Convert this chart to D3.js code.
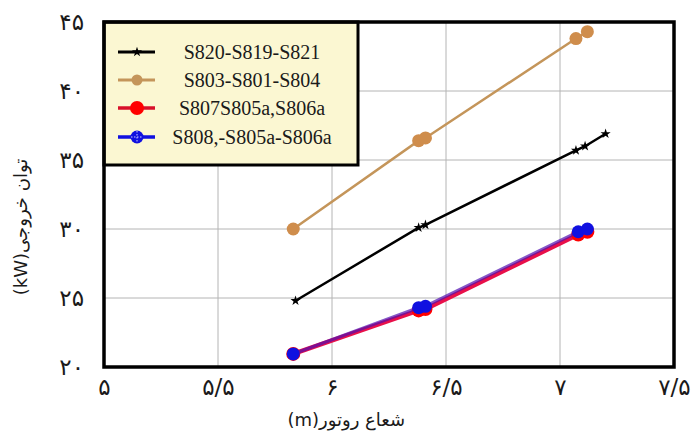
<!DOCTYPE html>
<html>
<head>
<meta charset="utf-8">
<script src="https://cdn.jsdelivr.net/npm/d3@7"></script>
<style>
  html, body { margin: 0; padding: 0; background: #fff; }
  svg { display: block; }
</style>
</head>
<body>
<svg id="chart" width="692" height="439"></svg>
<script>
// Rotor radius (m) and output power (kW) for each configuration
const xBlack = [5.84, 6.38, 6.41, 7.07, 7.11, 7.2];
const yBlack = [24.8, 30.1, 30.3, 35.7, 36.0, 36.9];

const xTan = [5.83, 6.38, 6.41, 7.07, 7.12];
const yTan = [30.0, 36.4, 36.6, 43.8, 44.3];

const xRed = [5.83, 6.38, 6.41, 7.08, 7.12];
const yRed = [20.95, 24.1, 24.2, 29.6, 29.8];

const xBlue = [5.83, 6.38, 6.41, 7.08, 7.12];
const yBlue = [20.95, 24.3, 24.4, 29.8, 30.0];

const seriesNames = ["S820-S819-S821", "S803-S801-S804", "S807S805a,S806a", "S808,-S805a-S806a"];

const xTicks = [5, 5.5, 6, 6.5, 7, 7.5];
const xTickLabels = ["۵", "۵/۵", "۶", "۶/۵", "۷", "۷/۵"];
const yTicks = [20, 25, 30, 35, 40, 45];
const yTickLabels = ["۲۰", "۲۵", "۳۰", "۳۵", "۴۰", "۴۵"];

const xTitle = "شعاع روتور(m)";
const yTitle = "توان خروجی(kW)";

const W = 692, H = 439;
const margin = { left: 104, top: 22, right: 18, bottom: 72 };
const iw = W - margin.left - margin.right;
const ih = H - margin.top - margin.bottom;

const svg = d3.select("#chart");
const x = d3.scaleLinear().domain([5, 7.5]).range([0, iw]);
const y = d3.scaleLinear().domain([20, 45]).range([ih, 0]);

const g = svg.append("g").attr("transform", `translate(${margin.left},${margin.top})`);

svg.append("defs").append("clipPath").attr("id", "plotClip")
  .append("rect").attr("x", 0).attr("y", 0).attr("width", iw).attr("height", ih);

// grid
g.append("g").selectAll("line").data(xTicks.slice(1, -1)).join("line")
  .attr("x1", d => x(d)).attr("x2", d => x(d)).attr("y1", 0).attr("y2", ih)
  .attr("stroke", "#b4b4b4").attr("stroke-width", 1);
g.append("g").selectAll("line").data(yTicks.slice(1, -1)).join("line")
  .attr("y1", d => y(d)).attr("y2", d => y(d)).attr("x1", 0).attr("x2", iw)
  .attr("stroke", "#b4b4b4").attr("stroke-width", 1);

// axes (labels only)
const persianFont = "DejaVu Sans";
const xAxis = g.append("g").attr("transform", `translate(0,${ih})`)
  .call(d3.axisBottom(x).tickValues(xTicks).tickSize(0).tickPadding(12)
    .tickFormat((d, i) => xTickLabels[i]));
xAxis.select(".domain").remove();
xAxis.selectAll("text").attr("font-family", persianFont).attr("font-size", 23).attr("fill", "#1a1a1a");

const yAxis = g.append("g")
  .call(d3.axisLeft(y).tickValues(yTicks).tickSize(0).tickPadding(20)
    .tickFormat((d, i) => yTickLabels[i]));
yAxis.select(".domain").remove();
yAxis.selectAll("text").attr("font-family", persianFont).attr("font-size", 23).attr("fill", "#1a1a1a");

// axis titles
svg.append("text")
  .attr("x", margin.left + iw * 0.425).attr("y", 426)
  .attr("text-anchor", "middle").attr("direction", "rtl")
  .attr("font-family", persianFont).attr("font-size", 18).attr("fill", "#1a1a1a")
  .text(xTitle);
svg.append("text")
  .attr("transform", `translate(27,${margin.top + 205}) rotate(-90)`)
  .attr("text-anchor", "middle").attr("direction", "rtl")
  .attr("font-family", persianFont).attr("font-size", 18).attr("fill", "#1a1a1a")
  .text(yTitle);

// series
const line = d3.line().x(d => x(d[0])).y(d => y(d[1]));
const zip = (a, b) => a.map((v, i) => [v, b[i]]);
const plot = g.append("g").attr("clip-path", "url(#plotClip)");

const tanPts = zip(xTan, yTan);
const blackPts = zip(xBlack, yBlack);
const redPts = zip(xRed, yRed);
const bluePts = zip(xBlue, yBlue);

// tan
plot.append("path").datum(tanPts).attr("d", line)
  .attr("fill", "none").attr("stroke", "#c4955a").attr("stroke-width", 2.5);
plot.selectAll("circle.tan").data(tanPts).join("circle").attr("class", "tan")
  .attr("cx", d => x(d[0])).attr("cy", d => y(d[1])).attr("r", 6.5)
  .attr("fill", "#cf8d4c");

// black
plot.append("path").datum(blackPts).attr("d", line)
  .attr("fill", "none").attr("stroke", "#000").attr("stroke-width", 2.5);
const star = d3.symbol().type(d3.symbolStar).size(32);
plot.selectAll("path.blk").data(blackPts).join("path").attr("class", "blk")
  .attr("transform", d => `translate(${x(d[0])},${y(d[1])})`)
  .attr("d", star).attr("fill", "#000");

// red + blue overlap, blending to purple
plot.append("path").datum(redPts).attr("d", line)
  .attr("fill", "none").attr("stroke", "#e8104a").attr("stroke-width", 4.5);
plot.selectAll("circle.red").data(redPts).join("circle").attr("class", "red")
  .attr("cx", d => x(d[0])).attr("cy", d => y(d[1])).attr("r", 7)
  .attr("fill", "#ff0000");
plot.append("path").datum(bluePts).attr("d", line)
  .attr("fill", "none").attr("stroke", "#5010b0").attr("stroke-width", 3.2).attr("opacity", 0.7);
plot.selectAll("circle.blue").data(bluePts).join("circle").attr("class", "blue")
  .attr("cx", d => x(d[0])).attr("cy", d => y(d[1])).attr("r", 6.5)
  .attr("fill", "#1010e0");

// legend
const lg = g.append("g");
lg.append("rect").attr("x", 0).attr("y", 0).attr("width", 254).attr("height", 143)
  .attr("fill", "#fbf7d2").attr("stroke", "#000").attr("stroke-width", 3);
const rows = [30, 58, 86, 115];
const legColors = ["#000", "#c4955a", "#d8102a", "#1010e0"];
seriesNames.forEach((name, i) => {
  const ry = rows[i];
  lg.append("line").attr("x1", 14).attr("x2", 51).attr("y1", ry).attr("y2", ry)
    .attr("stroke", legColors[i]).attr("stroke-width", i >= 2 ? 3.5 : 3);
  if (i === 0) {
    lg.append("path").attr("transform", `translate(33,${ry})`).attr("d", star).attr("fill", "#000");
  } else if (i === 1) {
    lg.append("circle").attr("cx", 33).attr("cy", ry).attr("r", 5.5).attr("fill", "#c4955a");
  } else if (i === 2) {
    lg.append("circle").attr("cx", 33).attr("cy", ry).attr("r", 7).attr("fill", "#ff0000");
  } else {
    lg.append("circle").attr("cx", 33).attr("cy", ry).attr("r", 6.5).attr("fill", "#1010e0");
    lg.append("path").attr("d", `M${27},${ry}H${39}M33,${ry - 6}V${ry + 6}`)
      .attr("stroke", "#c8c8ff").attr("stroke-width", 1).attr("stroke-dasharray", "1.5,1.5");
  }
  lg.append("text").attr("x", 148).attr("y", ry + 7)
    .attr("text-anchor", "middle")
    .attr("font-family", "Liberation Serif").attr("font-size", 20).attr("fill", "#1a1a1a")
    .text(name);
});

// frame
g.append("rect").attr("x", 0).attr("y", 0).attr("width", iw).attr("height", ih)
  .attr("fill", "none").attr("stroke", "#000").attr("stroke-width", 3.5);
</script>
</body>
</html>
